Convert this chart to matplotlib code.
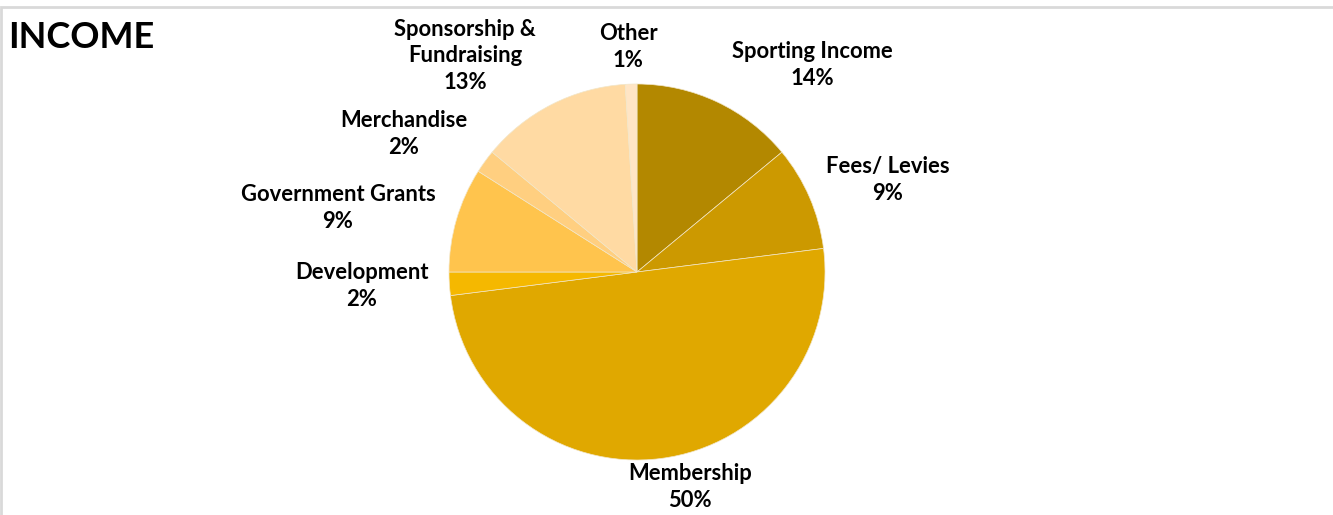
import matplotlib.pyplot as plt
from matplotlib.patches import Rectangle

categories = ["Sporting Income", "Fees/ Levies", "Membership", "Development",
              "Government Grants", "Merchandise", "Sponsorship &\nFundraising", "Other"]
shares = [14, 9, 50, 2, 9, 2, 13, 1]
colors = ["#B38800", "#CC9900", "#E0A800", "#F5B800",
          "#FFC44D", "#FFCF80", "#FFDAA3", "#FFE5C5"]

# label anchor points in pixel space (x, y from top)
label_pos = [(812, 65), (888, 180), (690, 487), (362, 286),
             (338, 208), (404, 134), (465, 56), (628, 47)]

W, H = 1333, 515
plt.rcParams["font.family"] = ["Lato", "DejaVu Sans"]

fig = plt.figure(figsize=(W / 100, H / 100), dpi=100)
ax = fig.add_axes([0, 0, 1, 1])

ax.pie(shares, colors=colors, startangle=90, counterclock=False,
       center=(637, H - 272), radius=188,
       wedgeprops=dict(edgecolor="#f2e6c8", linewidth=0.5))

ax.set_xlim(0, W)
ax.set_ylim(0, H)
ax.set_aspect("equal")
ax.axis("off")

# chart frame
ax.add_patch(Rectangle((1, -5), W + 10, H - 7 + 5, fill=False,
                       edgecolor="#d9d9d9", linewidth=2))

for name, val, (x, y) in zip(categories, shares, label_pos):
    ax.text(x, H - y, f"{name}\n{val}%", ha="center", va="center",
            fontsize=15.8, fontweight="bold", linespacing=1.35, color="#000000")

ax.text(8, H - 38, "INCOME", ha="left", va="center", fontsize=26,
        fontweight="bold", color="#000000")

fig.savefig("out.png", dpi=100)
